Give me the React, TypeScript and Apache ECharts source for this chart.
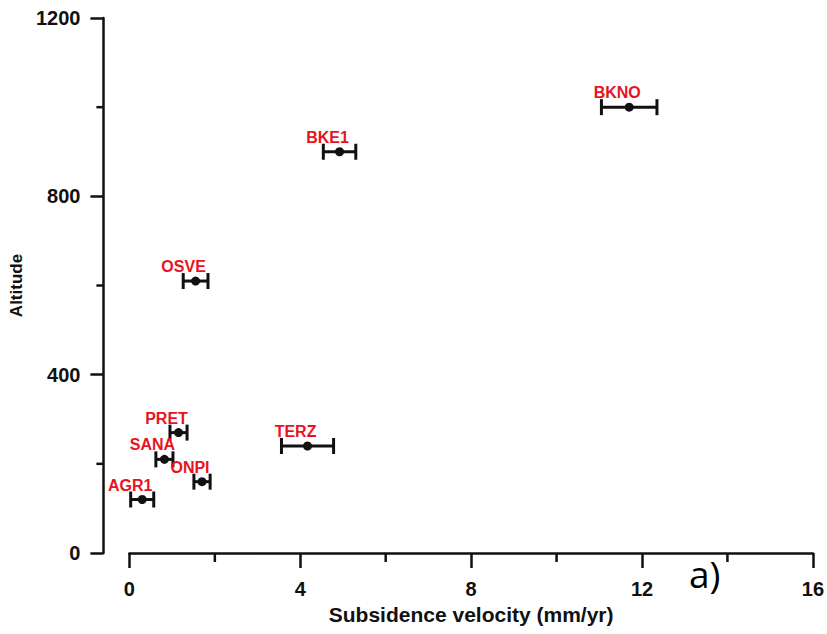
import React, { useEffect, useRef } from "react";
import * as echarts from "echarts";

const stations = ["AGR1", "SANA", "PRET", "ONPI", "OSVE", "TERZ", "BKE1", "BKNO"];
const velocity = [0.3, 0.82, 1.15, 1.7, 1.55, 4.17, 4.92, 11.7];
const altitude = [120, 210, 270, 160, 610, 240, 900, 1000];
const velocityError = [0.27, 0.2, 0.2, 0.19, 0.29, 0.61, 0.38, 0.65];

const xTicks = [0, 4, 8, 12, 16];
const yTicks = [0, 400, 800, 1200];
const xMinorTicks = [2, 6, 10, 14];
const yMinorTicks = [200, 600, 1000];

const INK = "#111111";
const RED = "#e8131f";
const FONT = "'Liberation Sans', Arial, sans-serif";
const Y_OFFSET = 26;

export default function App() {
  const ref = useRef<HTMLDivElement>(null);

  useEffect(() => {
    if (!ref.current) return;
    const chart = echarts.init(ref.current, null, { renderer: "svg" });

    const points = stations.map((s, i) => ({ name: s, value: [velocity[i], altitude[i]] }));
    const bars = stations.map((s, i) => ({
      name: s,
      value: [velocity[i], altitude[i], velocity[i] - velocityError[i], velocity[i] + velocityError[i]],
    }));

    const xMin = xTicks[0];
    const xMax = xTicks[xTicks.length - 1];
    const yMin = yTicks[0];
    const yMax = yTicks[yTicks.length - 1];
    const lineStyle = { color: INK, width: 2.5 };

    chart.setOption({
      animation: false,
      backgroundColor: "#ffffff",
      textStyle: { fontFamily: FONT },
      grid: { left: 128, right: 12, top: 18, bottom: 81, containLabel: false },
      xAxis: {
        type: "value",
        min: xMin,
        max: xMax,
        interval: 4,
        name: "Subsidence velocity (mm/yr)",
        nameLocation: "middle",
        nameGap: 50,
        nameTextStyle: { fontFamily: FONT, fontWeight: "bold", fontSize: 21, color: INK },
        axisLine: { onZero: false, lineStyle },
        axisTick: { show: true, inside: false, length: 15, lineStyle },
        axisLabel: {
          margin: 26,
          fontFamily: FONT,
          fontWeight: "bold",
          fontSize: 20,
          color: INK,
          formatter: (v: number) => String(v),
        },
        splitLine: { show: false },
      },
      yAxis: {
        type: "value",
        min: yMin,
        max: yMax,
        interval: 400,
        offset: Y_OFFSET,
        name: "Altitude",
        nameLocation: "middle",
        nameGap: 76,
        nameRotate: 90,
        nameTextStyle: { fontFamily: FONT, fontWeight: "bold", fontSize: 17, color: INK },
        axisLine: { show: true, onZero: false, lineStyle },
        axisTick: { show: true, inside: false, length: 13, lineStyle },
        axisLabel: {
          margin: 23,
          fontFamily: FONT,
          fontWeight: "bold",
          fontSize: 20,
          color: INK,
          formatter: (v: number) => String(v),
        },
        splitLine: { show: false },
      },
      series: [
        {
          type: "custom",
          name: "xMinor",
          data: xMinorTicks.map((v) => [v, yMin]),
          clip: false,
          silent: true,
          z: 5,
          renderItem: (params: any, api: any) => {
            const p = api.coord([api.value(0), api.value(1)]);
            return {
              type: "rect",
              shape: { x: p[0] - 1.25, y: p[1], width: 2.5, height: 9 },
              style: { fill: INK },
            };
          },
        },
        {
          type: "custom",
          name: "yMinor",
          data: yMinorTicks.map((v) => [xMin, v]),
          clip: false,
          silent: true,
          z: 5,
          renderItem: (params: any, api: any) => {
            const p = api.coord([api.value(0), api.value(1)]);
            const ax = p[0] - Y_OFFSET;
            return {
              type: "rect",
              shape: { x: ax - 7, y: p[1] - 1.25, width: 7, height: 2.5 },
              style: { fill: INK },
            };
          },
        },
        {
          type: "custom",
          name: "errors",
          data: bars,
          z: 2,
          renderItem: (params: any, api: any) => {
            const y = api.value(1);
            const lo = api.coord([api.value(2), y]);
            const hi = api.coord([api.value(3), y]);
            const cap = 8;
            const style = { stroke: INK, lineWidth: 3, fill: "none" };
            return {
              type: "group",
              children: [
                { type: "line", shape: { x1: lo[0], y1: lo[1], x2: hi[0], y2: hi[1] }, style },
                { type: "line", shape: { x1: lo[0], y1: lo[1] - cap, x2: lo[0], y2: lo[1] + cap }, style },
                { type: "line", shape: { x1: hi[0], y1: hi[1] - cap, x2: hi[0], y2: hi[1] + cap }, style },
              ],
            };
          },
        },
        {
          type: "scatter",
          data: points,
          z: 3,
          symbol: "circle",
          symbolSize: 9,
          itemStyle: { color: INK, opacity: 1 },
          label: {
            show: true,
            position: "top",
            distance: 2,
            offset: [-12, 0],
            formatter: (p: any) => p.name,
            fontFamily: FONT,
            fontWeight: "bold",
            fontSize: 16,
            color: RED,
          },
        },
      ],
      graphic: [
        {
          type: "text",
          x: 689,
          y: 573,
          style: {
            text: "a)",
            font: "normal 37px 'Open Sans', sans-serif",
            fill: "#000000",
            textVerticalAlign: "middle",
          },
        },
      ],
    });

    return () => chart.dispose();
  }, []);

  return <div ref={ref} style={{ width: 827, height: 634, position: "absolute", left: 0, top: 0 }} />;
}
